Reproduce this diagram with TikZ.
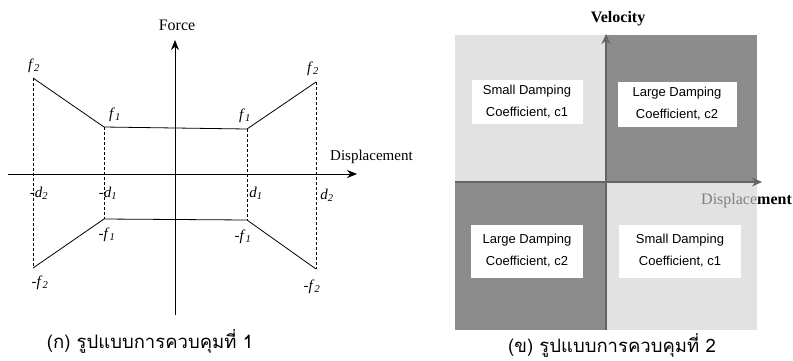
\documentclass[tikz,border=0pt]{standalone}
\usepackage{fontspec}
\setmainfont{Liberation Serif}
\setsansfont{Liberation Sans}
\newfontfamily\thaifont[Script=Thai]{Loma}
\definecolor{darkquad}{RGB}{140,140,140}
\definecolor{lightquad}{RGB}{226,226,226}
\definecolor{axisgray}{RGB}{100,100,100}
\usetikzlibrary{arrows.meta,positioning,calc}
\newcommand{\fsub}[2]{\textit{#1}\textsubscript{\textit{#2}}}

\begin{document}
\begin{tikzpicture}[x=1pt,y=-1pt,
    axis/.style={line width=0.9pt,-{Stealth[length=10pt,width=8pt]}},
    gaxis/.style={line width=1.2pt,draw=axisgray,-{Stealth[length=10pt,width=9pt,fill=axisgray]}},
    curve/.style={line width=0.8pt},
    guide/.style={line width=0.7pt,dash pattern=on 3pt off 2pt},
    lbl/.style={font=\fontsize{15}{17}\selectfont,inner sep=1pt},
    dampbox/.style={fill=white,align=center,inner sep=0pt,
                    font=\sffamily\fontsize{13}{22}\selectfont},
    caption/.style={font=\thaifont\fontsize{18.5}{20}\selectfont,inner sep=1pt}]
  \useasboundingbox (0,0) rectangle (793,360);

  % (a) force vs displacement
  \coordinate (xL) at (8,174);
  \coordinate (xR) at (357,174);
  \coordinate (yB) at (175,315);
  \coordinate (yT) at (175,40);
  \coordinate (p2) at (33,78);
  \coordinate (p1) at (104,127);
  \coordinate (q1) at (247,129);
  \coordinate (q2) at (316,82);
  \coordinate (n2) at (33,268);
  \coordinate (n1) at (104,219);
  \coordinate (m1) at (247,220);
  \coordinate (m2) at (316,269);
  \draw[axis] (xL) -- (xR);
  \draw[axis] (yB) -- (yT);
  \draw[curve] (p2) -- (p1) -- (q1) -- (q2);
  \draw[curve] (n2) -- (n1) -- (m1) -- (m2);
  \draw[guide] (p2) -- (n2);
  \draw[guide] (p1) -- (n1);
  \draw[guide] (q1) -- (m1);
  \draw[guide] (q2) -- (m2);
  \node[lbl, font=\fontsize{16}{18}\selectfont] (force) at (177,25) {Force};
  \node[lbl, anchor=west] (dispA) at (329,157) {Displacement};
  \node[lbl] (f2l) at (34,66) {\fsub{f}{2}};
  \node[lbl] (f2r) at (313,69) {\fsub{f}{2}};
  \node[lbl] (f1l) at (115,115) {\fsub{f}{1}};
  \node[lbl] (f1r) at (245,116) {\fsub{f}{1}};
  \node[lbl] (d2l) at (39,193) {-\fsub{d}{2}};
  \node[lbl] (d1l) at (108,193) {-\fsub{d}{1}};
  \node[lbl] (d1r) at (256,193) {\fsub{d}{1}};
  \node[lbl] (d2r) at (327,195) {\fsub{d}{2}};
  \node[lbl] (nf1l) at (107,235) {-\fsub{f}{1}};
  \node[lbl] (nf1r) at (243,237) {-\fsub{f}{1}};
  \node[lbl] (nf2l) at (40,283) {-\fsub{f}{2}};
  \node[lbl] (nf2r) at (312,287) {-\fsub{f}{2}};
  \node[caption] (capA) at (150,341) {(ก) รูปแบบการควบคุมที่ 1};

  % (b) velocity vs displacement
  \fill[lightquad] (455,35) rectangle (606,182);
  \fill[darkquad] (606,35) rectangle (757,182);
  \fill[darkquad] (455,182) rectangle (606,330);
  \fill[lightquad] (606,182) rectangle (757,330);
  \coordinate (vB) at (606,330);
  \coordinate (vT) at (606,34);
  \coordinate (hL) at (455,182);
  \coordinate (hR) at (762,182);
  \draw[gaxis] (vB) -- (vT);
  \draw[gaxis] (hL) -- (hR);
  \node[lbl, font=\fontsize{16}{18}\selectfont\bfseries] (vel) at (618,19) {Velocity};
  \node[lbl, font=\fontsize{16}{18}\selectfont, anchor=west] (dispB) at (700,201)
    {\textcolor{gray}{Displace}\textbf{ment}};
  \node[dampbox, minimum width=111pt, minimum height=44pt] (sd1) at (527,102)
    {Small Damping\\Coefficient, c1};
  \node[dampbox, minimum width=119pt, minimum height=45pt] (ld1) at (677,104)
    {Large Damping\\Coefficient, c2};
  \node[dampbox, minimum width=112pt, minimum height=53pt] (ld2) at (527,251)
    {Large Damping\\Coefficient, c2};
  \node[dampbox, minimum width=122pt, minimum height=53pt] (sd2) at (680,251)
    {Small Damping\\Coefficient, c1};
  \node[caption] (capB) at (612,345) {(ข) รูปแบบการควบคุมที่ 2};
\end{tikzpicture}
\end{document}
